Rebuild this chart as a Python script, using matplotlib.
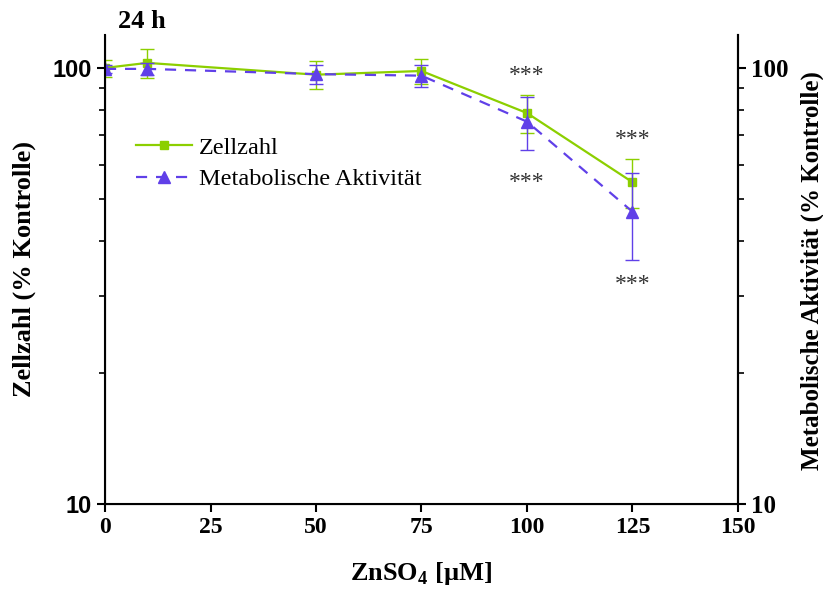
"""Zellzahl und metabolische Aktivität nach 24 h ZnSO4-Exposition."""

import matplotlib

matplotlib.use("Agg")
import matplotlib.pyplot as plt
from matplotlib.lines import Line2D
from matplotlib.ticker import LogLocator, NullFormatter

plt.rcParams["font.family"] = ["Liberation Serif", "DejaVu Serif"]
plt.rcParams["mathtext.fontset"] = "custom"
plt.rcParams["mathtext.bf"] = "Liberation Serif:bold"
plt.rcParams["mathtext.rm"] = "Liberation Serif"

# data
conc = [0, 10, 50, 75, 100, 125]
zellzahl = [100.0, 102.7, 96.5, 98.4, 78.8, 54.7]
zellzahl_err = [4.5, 8.0, 7.0, 6.5, 8.0, 7.0]
aktivitaet = [99.5, 99.5, 96.8, 96.0, 75.3, 46.8]
aktivitaet_err = [2.0, 3.0, 5.0, 5.5, 10.5, 10.5]

# significance markers: (x, y)
stars_x = [100, 100, 125, 125]
stars_y = [96.0, 54.6, 68.7, 31.9]

GREEN = "#8ccf00"
PURPLE = "#6040e8"
DASH = (0, (5, 4))

fig = plt.figure(figsize=(8.23, 5.91), dpi=100)
ax = fig.add_axes([0.1276, 0.1472, 0.7691, 0.7936])

ax.errorbar(conc, zellzahl, yerr=zellzahl_err, color=GREEN, marker="s",
            markersize=6, linewidth=1.6, elinewidth=1.0, capsize=5,
            capthick=1.0, zorder=3)
ax.errorbar(conc, aktivitaet, yerr=aktivitaet_err, color=PURPLE, marker="^",
            markersize=8, linewidth=1.6, linestyle=DASH,
            elinewidth=1.0, capsize=5, capthick=1.0, zorder=4)

for sx, sy in zip(stars_x, stars_y):
    ax.text(sx, sy, "***", ha="center", va="center", fontsize=17,
            color="#333333")

ax.set_yscale("log")
ax.set_xlim(0, 150)
ax.set_ylim(10, 119)
ax.set_xticks([0, 25, 50, 75, 100, 125, 150])
ax.set_yticks([10, 100])
ax.set_yticklabels(["10", "100"], family="Liberation Sans", fontweight="bold",
                   fontsize=17)
ax.yaxis.set_minor_locator(LogLocator(base=10, subs=range(2, 10)))
ax.yaxis.set_minor_formatter(NullFormatter())
for lbl in ax.get_xticklabels():
    lbl.set_fontweight("bold")
    lbl.set_fontsize(17)

ax.tick_params(axis="both", which="major", direction="out", length=6,
               width=1.5)
ax.tick_params(axis="y", which="minor", direction="out", length=4, width=1.2)
for side in ["left", "bottom", "right"]:
    ax.spines[side].set_linewidth(1.5)
ax.spines["top"].set_visible(False)

ax.set_xlabel(r"ZnSO$_\mathbf{4}$ [µM]", fontsize=19, fontweight="bold",
              labelpad=16)
ax.set_ylabel("Zellzahl (% Kontrolle)", fontsize=19, fontweight="bold",
              labelpad=12)

ax2 = ax.twinx()
ax2.set_yscale("log")
ax2.set_ylim(ax.get_ylim())
ax2.set_yticks([10, 100])
ax2.set_yticklabels(["10", "100"], fontweight="bold", fontsize=18)
ax2.yaxis.set_minor_locator(LogLocator(base=10, subs=range(2, 10)))
ax2.yaxis.set_minor_formatter(NullFormatter())
ax2.tick_params(axis="y", which="major", direction="out", length=6, width=1.5)
ax2.tick_params(axis="y", which="minor", direction="out", length=4, width=1.2)
ax2.spines["right"].set_linewidth(1.5)
ax2.spines["top"].set_visible(False)

# right label sits tight against the figure edge, place it directly
fig.text(0.9866, 0.543, "Metabolische Aktivität (% Kontrolle)", fontsize=18,
         fontweight="bold", rotation=90, ha="center", va="center")

ax.text(0.02, 1.005, "24 h", transform=ax.transAxes, fontsize=19,
        fontweight="bold", ha="left", va="bottom")

handles = [
    Line2D([], [], color=GREEN, marker="s", markersize=6, linewidth=1.6),
    Line2D([], [], color=PURPLE, marker="^", markersize=8, linewidth=1.6,
           linestyle=DASH),
]
ax.legend(handles, ["Zellzahl", "Metabolische Aktivität"], loc="upper left",
          bbox_to_anchor=(0.014, 0.83), frameon=False, fontsize=17.5,
          handlelength=2.3, handletextpad=0.3, labelspacing=0.4)

fig.savefig("out.png", dpi=100)
